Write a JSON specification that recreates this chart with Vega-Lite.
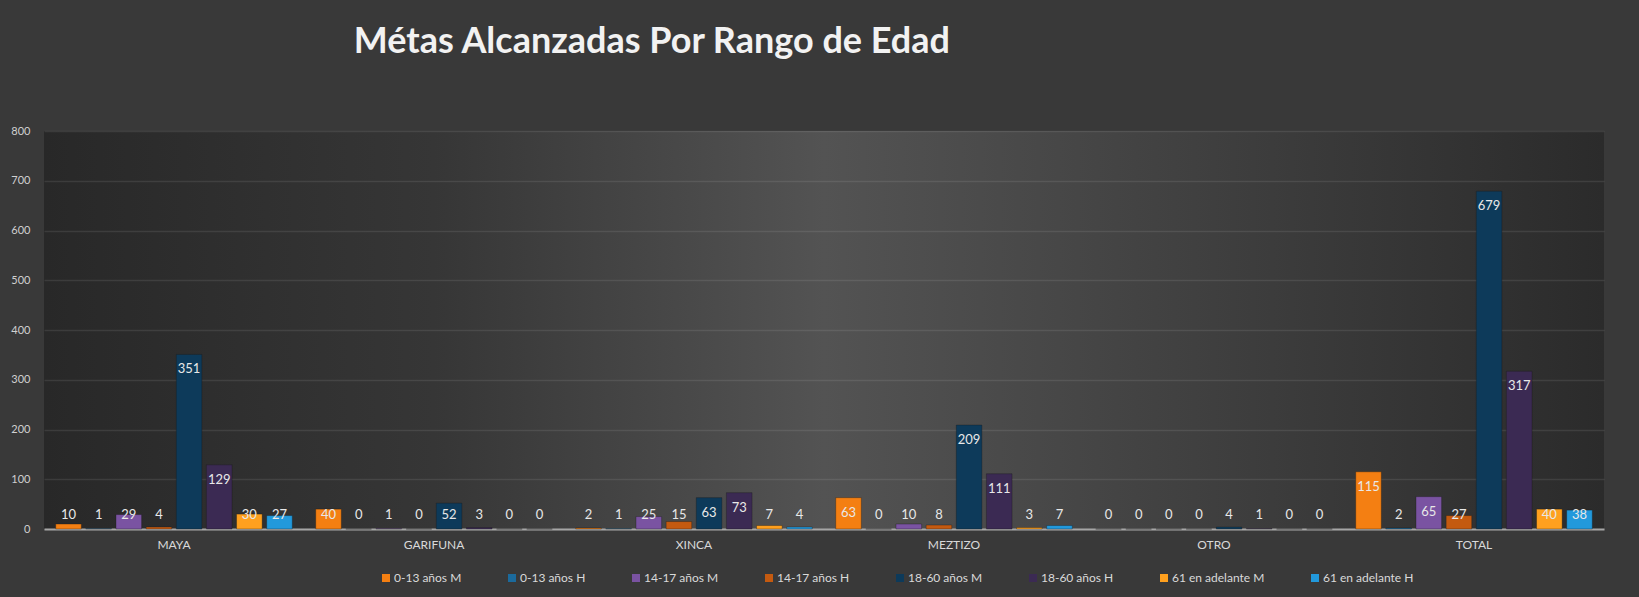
{
  "$schema": "https://vega.github.io/schema/vega-lite/v6.json",
  "autosize": {"type": "none"},
  "width": 1560,
  "height": 398,
  "padding": {"left": 44, "top": 131, "right": 35, "bottom": 68},
  "background": "#393939",
  "title": {
    "text": "Métas Alcanzadas Por Rango de Edad",
    "anchor": "start",
    "dx": 343,
    "offset": 64,
    "font": "Lato",
    "fontSize": 36,
    "fontWeight": "bold",
    "color": "#f2f2f2"
  },
  "config": {
    "view": {
      "stroke": null,
      "fill": {
        "gradient": "linear",
        "x1": 0, "y1": 0.5, "x2": 1, "y2": 0.5,
        "stops": [
          {"offset": 0, "color": "#282828"},
          {"offset": 0.25, "color": "#363636"},
          {"offset": 0.5, "color": "#535353"},
          {"offset": 0.75, "color": "#3f3f3f"},
          {"offset": 1, "color": "#2b2b2b"}
        ]
      }
    },
    "font": "Lato"
  },
  "data": {
    "values": [
      {"grupo": "MAYA", "rango": "0-13 años M", "valor": 10},
      {"grupo": "MAYA", "rango": "0-13 años H", "valor": 1},
      {"grupo": "MAYA", "rango": "14-17 años M", "valor": 29},
      {"grupo": "MAYA", "rango": "14-17 años H", "valor": 4},
      {"grupo": "MAYA", "rango": "18-60 años M", "valor": 351},
      {"grupo": "MAYA", "rango": "18-60 años H", "valor": 129},
      {"grupo": "MAYA", "rango": "61 en adelante M", "valor": 30},
      {"grupo": "MAYA", "rango": "61 en adelante H", "valor": 27},
      {"grupo": "GARIFUNA", "rango": "0-13 años M", "valor": 40},
      {"grupo": "GARIFUNA", "rango": "0-13 años H", "valor": 0},
      {"grupo": "GARIFUNA", "rango": "14-17 años M", "valor": 1},
      {"grupo": "GARIFUNA", "rango": "14-17 años H", "valor": 0},
      {"grupo": "GARIFUNA", "rango": "18-60 años M", "valor": 52},
      {"grupo": "GARIFUNA", "rango": "18-60 años H", "valor": 3},
      {"grupo": "GARIFUNA", "rango": "61 en adelante M", "valor": 0},
      {"grupo": "GARIFUNA", "rango": "61 en adelante H", "valor": 0},
      {"grupo": "XINCA", "rango": "0-13 años M", "valor": 2},
      {"grupo": "XINCA", "rango": "0-13 años H", "valor": 1},
      {"grupo": "XINCA", "rango": "14-17 años M", "valor": 25},
      {"grupo": "XINCA", "rango": "14-17 años H", "valor": 15},
      {"grupo": "XINCA", "rango": "18-60 años M", "valor": 63},
      {"grupo": "XINCA", "rango": "18-60 años H", "valor": 73},
      {"grupo": "XINCA", "rango": "61 en adelante M", "valor": 7},
      {"grupo": "XINCA", "rango": "61 en adelante H", "valor": 4},
      {"grupo": "MEZTIZO", "rango": "0-13 años M", "valor": 63},
      {"grupo": "MEZTIZO", "rango": "0-13 años H", "valor": 0},
      {"grupo": "MEZTIZO", "rango": "14-17 años M", "valor": 10},
      {"grupo": "MEZTIZO", "rango": "14-17 años H", "valor": 8},
      {"grupo": "MEZTIZO", "rango": "18-60 años M", "valor": 209},
      {"grupo": "MEZTIZO", "rango": "18-60 años H", "valor": 111},
      {"grupo": "MEZTIZO", "rango": "61 en adelante M", "valor": 3},
      {"grupo": "MEZTIZO", "rango": "61 en adelante H", "valor": 7},
      {"grupo": "OTRO", "rango": "0-13 años M", "valor": 0},
      {"grupo": "OTRO", "rango": "0-13 años H", "valor": 0},
      {"grupo": "OTRO", "rango": "14-17 años M", "valor": 0},
      {"grupo": "OTRO", "rango": "14-17 años H", "valor": 0},
      {"grupo": "OTRO", "rango": "18-60 años M", "valor": 4},
      {"grupo": "OTRO", "rango": "18-60 años H", "valor": 1},
      {"grupo": "OTRO", "rango": "61 en adelante M", "valor": 0},
      {"grupo": "OTRO", "rango": "61 en adelante H", "valor": 0},
      {"grupo": "TOTAL", "rango": "0-13 años M", "valor": 115},
      {"grupo": "TOTAL", "rango": "0-13 años H", "valor": 2},
      {"grupo": "TOTAL", "rango": "14-17 años M", "valor": 65},
      {"grupo": "TOTAL", "rango": "14-17 años H", "valor": 27},
      {"grupo": "TOTAL", "rango": "18-60 años M", "valor": 679},
      {"grupo": "TOTAL", "rango": "18-60 años H", "valor": 317},
      {"grupo": "TOTAL", "rango": "61 en adelante M", "valor": 40},
      {"grupo": "TOTAL", "rango": "61 en adelante H", "valor": 38}
    ]
  },
  "encoding": {
    "x": {
      "field": "grupo",
      "type": "nominal",
      "sort": ["MAYA", "GARIFUNA", "XINCA", "MEZTIZO", "OTRO", "TOTAL"],
      "scale": {"paddingInner": 0.09, "paddingOuter": 0.045},
      "axis": {
        "title": null,
        "labelAngle": 0,
        "labelColor": "#d9d9d9",
        "labelFontSize": 12,
        "labelPadding": 10,
        "ticks": false,
        "domainColor": "#a6a6a6",
        "domainWidth": 2
      }
    },
    "xOffset": {
      "field": "rango",
      "type": "nominal",
      "sort": ["0-13 años M", "0-13 años H", "14-17 años M", "14-17 años H", "18-60 años M", "18-60 años H", "61 en adelante M", "61 en adelante H"],
      "scale": {"paddingInner": 0.15}
    }
  },
  "layer": [
    {
      "mark": {"type": "bar", "stroke": "#1a1a1a", "strokeOpacity": 0.35, "strokeWidth": 1},
      "encoding": {
        "y": {
          "field": "valor",
          "type": "quantitative",
          "scale": {"domain": [0, 800], "nice": false},
          "axis": {
            "title": null,
            "values": [0, 100, 200, 300, 400, 500, 600, 700, 800],
            "domain": false,
            "ticks": false,
            "labelColor": "#d0d0d0",
            "labelFontSize": 11,
            "labelPadding": 14,
            "gridColor": "#ffffff",
            "gridOpacity": 0.09,
            "gridWidth": 1.5
          }
        },
        "color": {
          "field": "rango",
          "type": "nominal",
          "sort": ["0-13 años M", "0-13 años H", "14-17 años M", "14-17 años H", "18-60 años M", "18-60 años H", "61 en adelante M", "61 en adelante H"],
          "scale": {
            "domain": ["0-13 años M", "0-13 años H", "14-17 años M", "14-17 años H", "18-60 años M", "18-60 años H", "61 en adelante M", "61 en adelante H"],
            "range": ["#F47F12", "#1B6A9C", "#7A53A2", "#C45A10", "#0D3A5A", "#3B2A53", "#FFA01E", "#2299DC"]
          },
          "legend": {
            "title": null,
            "orient": "none",
            "legendX": 336,
            "legendY": 441,
            "direction": "horizontal",
            "columns": 8,
            "columnPadding": 44,
            "symbolType": "square",
            "symbolSize": 64,
            "symbolStrokeWidth": 0,
            "labelColor": "#d9d9d9",
            "labelFontSize": 12,
            "labelOffset": 2
          }
        }
      }
    },
    {
      "transform": [{"filter": "datum.valor >= 58"}],
      "mark": {"type": "text", "baseline": "middle", "dy": 15, "color": "#e8e8e8", "fontSize": 13},
      "encoding": {
        "y": {"field": "valor", "type": "quantitative"},
        "text": {"field": "valor", "type": "quantitative"}
      }
    },
    {
      "transform": [{"filter": "datum.valor < 58"}],
      "mark": {"type": "text", "baseline": "middle", "dy": -14, "color": "#e8e8e8", "fontSize": 13},
      "encoding": {
        "y": {"datum": 0, "type": "quantitative"},
        "text": {"field": "valor", "type": "quantitative"}
      }
    }
  ]
}
